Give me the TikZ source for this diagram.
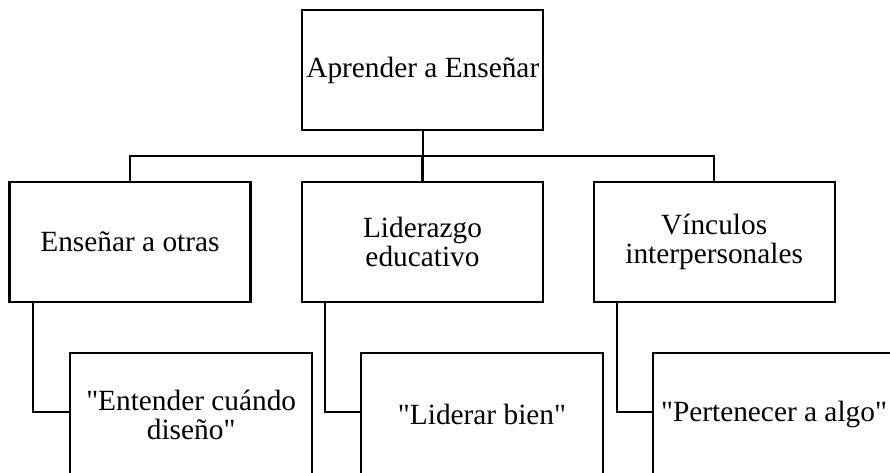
\documentclass[tikz,border=0pt]{standalone}
\usepackage{fontspec}
\setmainfont{Liberation Serif}[Ligatures=TeXOff]
\usetikzlibrary{
  calc
  , positioning
}
\newcommand{\qmark}{\symbol{34}}

\begin{document}
\begin{tikzpicture}[
    x=0.75pt, y=-0.75pt,
    line width=1.7pt,
    box/.style={rectangle,
      draw=black,
      minimum width=180.75pt,
      minimum height=90pt,
      inner sep=0pt,
      align=center,
      font=\fontsize{22}{21.5}\selectfont},
    leaf/.style={box,
      minimum width=181.5pt,
      minimum height=93pt},
    link/.style={draw=black, line width=1.7pt}
  ]
      \path [use as bounding box, clip] (0,0) rectangle (890,472);

      \node [box] (top) at (422.8,70) {Aprender a Enseñar};

      \node [box] (ens) at (130,241.7) {Enseñar a otras};
      \node [box] (lid) at (422.5,241.7) {Liderazgo\\educativo};
      \node [box] (vin) at (714.2,241.7) {Vínculos\\interpersonales};

      \node [leaf] (ent) at (191.2,414.7) {\qmark Entender cuándo\\diseño\qmark};
      \node [leaf] (lib) at (482,414.7) {\qmark Liderar bien\qmark};
      \node [leaf] (per) at (774,414.7) {\qmark Pertenecer a algo\qmark};

      \coordinate (bus) at (0,155.7);
      \draw [link] (top.south) -- (top.south |- bus);
      \draw [link] (ens.north) -- (ens.north |- bus) -- (vin.north |- bus) -- (vin.north);
      \draw [link] (lid.north) -- (lid.north |- bus);

      % child boxes hang off the left side of each box
      \draw [link] ($(ens.south west)+(24.3,0)$) |- ($(ent.west)+(0,-3)$);
      \draw [link] ($(lid.south west)+(24.3,0)$) |- ($(lib.west)+(0,-3)$);
      \draw [link] ($(vin.south west)+(24.3,0)$) |- ($(per.west)+(0,-3)$);
\end{tikzpicture}
\end{document}
